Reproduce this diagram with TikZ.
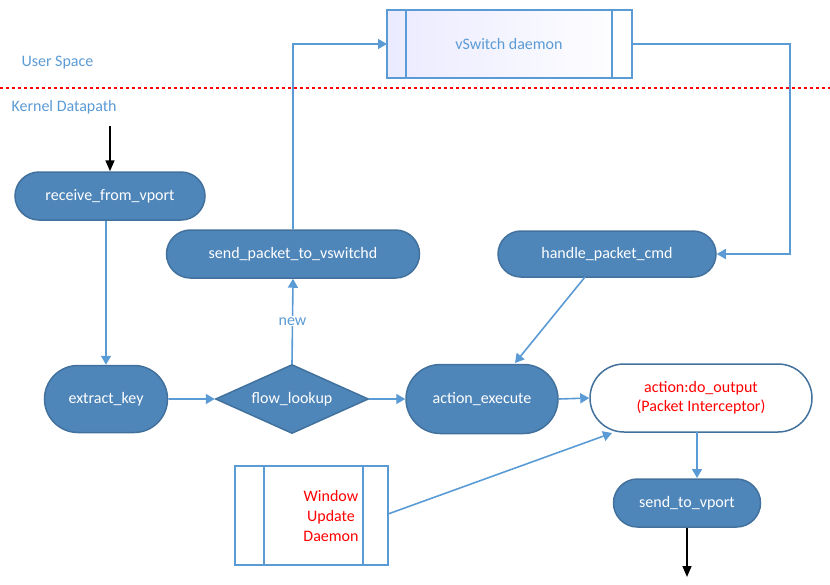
\documentclass[tikz,border=0pt]{standalone}
\usepackage{fontspec}
\setmainfont{Carlito}
\usetikzlibrary{shapes.geometric,arrows.meta}
\definecolor{nfill}{HTML}{4F86BA}
\definecolor{nbord}{HTML}{41719C}
\definecolor{lblue}{HTML}{5B9BD5}
\begin{document}
\begin{tikzpicture}[x=1pt,y=-1pt,
  proc/.style={rounded rectangle,draw=nbord,line width=1.5pt,fill=nfill,text=white,font=\fontsize{16}{19}\selectfont,inner sep=0pt},
  con/.style={draw=lblue,line width=1.6pt,-{Triangle[length=9pt,width=10pt]}},
  blk/.style={draw=black,line width=1.6pt,-{Triangle[length=11pt,width=9pt]}},
  sub/.style={draw=lblue,line width=1.5pt}]
\useasboundingbox (0,0) rectangle (830,584);
\usetikzlibrary{shapes.misc}
% vSwitch daemon
\fill[left color=blue!8,right color=white] (387,10) rectangle (632,78);
\draw[sub] (387,10) rectangle (632,78) (406,10)--(406,78) (612,10)--(612,78);
\node[text=lblue,font=\fontsize{16}{19}\selectfont] (vs) at (509,44) {vSwitch daemon};
\coordinate (vsL) at (387,44); \coordinate (vsR) at (632,44);
\node[text=lblue,font=\fontsize{16}{19}\selectfont,anchor=west] (us) at (18,63) {User Space};
\draw[red,line width=2pt,dash pattern=on 3pt off 3pt] (0,88)--(830,88);
\node[text=lblue,font=\fontsize{16}{19}\selectfont,anchor=west] (kd) at (8,107) {Kernel Datapath};
\node[proc,minimum width=190pt,minimum height=48pt] (rcv) at (110,196) {receive\_from\_vport};
\node[proc,minimum width=253pt,minimum height=48pt] (spv) at (293,254) {send\_packet\_to\_vswitchd};
\node[proc,minimum width=218pt,minimum height=46pt] (hpc) at (607,254) {handle\_packet\_cmd};
\node[proc,minimum width=123pt,minimum height=67pt] (ek) at (106,399) {extract\_key};
\node[diamond,aspect=2.2,draw=nbord,line width=1.5pt,fill=nfill,text=white,font=\fontsize{16}{19}\selectfont,minimum width=153pt,minimum height=69pt,inner sep=0pt] (fl) at (292,399) {flow\_lookup};
\node[proc,minimum width=152pt,minimum height=69pt] (ae) at (482,399) {action\_execute};
\node[rounded rectangle,draw=nbord,line width=1.5pt,fill=white,text=red,font=\fontsize{16}{19}\selectfont,align=center,minimum width=222pt,minimum height=68pt,inner sep=0pt] (dout) at (701,398) {action:do\_output\\(Packet Interceptor)};
\node[proc,minimum width=147pt,minimum height=48pt] (stv) at (687,503) {send\_to\_vport};
% Window Update Daemon
\draw[sub,fill=white] (235,466) rectangle (388,565) (264,466)--(264,565) (363,466)--(363,565);
\node[text=red,font=\fontsize{16}{20}\selectfont,align=center] (wud) at (331,516) {Window\\Update\\Daemon};
\coordinate (wudR) at (388,514);
\coordinate (in) at (110,126); \coordinate (out) at (687,577);
% connectors
\draw[blk] (in)--(rcv.north);
\draw[con] (rcv.south-|ek)--(ek.north);
\draw[con] (ek)--(fl);
\draw[con] (fl.north)--(spv.south) node[midway,fill=white,text=lblue,font=\fontsize{16}{19}\selectfont,inner sep=1pt] (nw) {new};
\draw[con] (spv.north)|-(vsL);
\draw[con] (vsR)-|(790,254)--(hpc.east);
\draw[con] (585,277)--(515,363);
\draw[con] (fl.east)--(ae.west);
\draw[con] (ae.east)--(dout.west);
\draw[con] (wudR)--(612,433);
\draw[con] (697,432)--(697,478);
\draw[blk] (stv.south)--(out);
\end{tikzpicture}
\end{document}
